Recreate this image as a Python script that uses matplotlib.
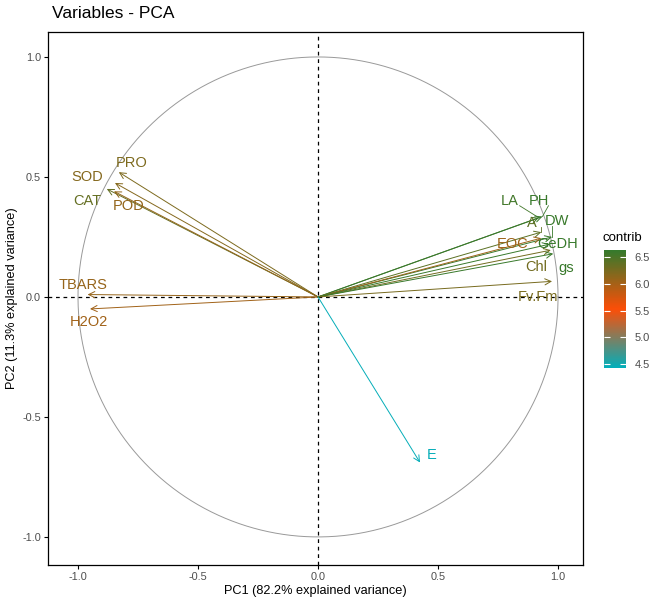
import numpy as np
import matplotlib
matplotlib.use("Agg")
import matplotlib.pyplot as plt
from matplotlib.colors import LinearSegmentedColormap, Normalize
from matplotlib.cm import ScalarMappable

plt.rcParams['font.family'] = ['Liberation Sans', 'DejaVu Sans']

# variable coordinates on PC1 / PC2 and their contribution
names = ['PRO', 'SOD', 'CAT', 'POD', 'TBARS', 'H2O2', 'LA', 'PH', 'A', 'DW',
         'EOC', 'GeDH', 'Chl', 'gs', 'Fv.Fm', 'E']
pc1 = [-0.83, -0.846, -0.88, -0.85, -0.96, -0.95, 0.92, 0.935, 0.93, 0.975,
       0.93, 0.965, 0.97, 0.98, 0.975, 0.425]
pc2 = [0.52, 0.475, 0.45, 0.44, 0.01, -0.05, 0.33, 0.335, 0.27, 0.25,
       0.245, 0.22, 0.195, 0.18, 0.065, -0.69]
contrib = [6.22, 6.18, 6.35, 6.1, 6.08, 6.02, 6.55, 6.6, 6.4, 6.6,
           6.05, 6.6, 6.28, 6.6, 6.25, 4.45]

# label positions (repelled text)
lab_x = [-0.775, -0.96, -0.96, -0.79, -0.98, -0.955, 0.80, 0.92, 0.89, 0.995,
         0.81, 1.0, 0.91, 1.035, 0.915, 0.475]
lab_y = [0.56, 0.50, 0.40, 0.38, 0.05, -0.105, 0.40, 0.40, 0.31, 0.315,
         0.22, 0.22, 0.125, 0.12, 0.0, -0.66]
seg_names = ['LA', 'PH', 'A', 'DW']

cmap = LinearSegmentedColormap.from_list('contrib', ['#00AFBB', '#FC4E07', '#337A2C'])
norm = Normalize(vmin=4.43, vmax=6.63)

fig = plt.figure(figsize=(6.49, 6.02), dpi=100)
ax = fig.add_axes([48 / 649, 1 - 565 / 602, 535 / 649, 533 / 602])

t = np.linspace(0, 2 * np.pi, 400)
ax.plot(np.cos(t), np.sin(t), color='#999999', lw=0.7)
ax.axhline(0, color='black', lw=0.9, ls=(0, (3, 3)))
ax.axvline(0, color='black', lw=0.9, ls=(0, (3, 3)))

for n, x, y, c, lx, ly in zip(names, pc1, pc2, contrib, lab_x, lab_y):
    col = cmap(norm(c))
    ax.annotate('', xy=(x, y), xytext=(0, 0),
                arrowprops=dict(arrowstyle='->', color=col, lw=0.7,
                                mutation_scale=11, shrinkA=0, shrinkB=0))
    if n in seg_names:
        ax.plot([lx + (0.04 if lx < x else -0.02), x], [ly - 0.02, y],
                color=col, lw=0.6)
    ax.text(lx, ly, n, color=col, fontsize=10.5, ha='center', va='center')

ax.set_xlim(-1.125, 1.104)
ax.set_ylim(-1.117, 1.104)
ax.set_xticks([-1.0, -0.5, 0.0, 0.5, 1.0])
ax.set_yticks([-1.0, -0.5, 0.0, 0.5, 1.0])
ax.set_xticklabels(['-1.0', '-0.5', '0.0', '0.5', '1.0'])
ax.set_yticklabels(['-1.0', '-0.5', '0.0', '0.5', '1.0'])
ax.tick_params(labelsize=7.8, labelcolor='#4d4d4d', length=3, width=0.8, pad=2)
for s in ax.spines.values():
    s.set_linewidth(0.9)
ax.set_xlabel('PC1 (82.2% explained variance)', fontsize=9.2, labelpad=2)
ax.set_ylabel('PC2 (11.3% explained variance)', fontsize=9.2, labelpad=3)
fig.text(52 / 649, 1 - 14 / 602, 'Variables - PCA', fontsize=12.5, ha='left', va='center')

# colour bar
cax = fig.add_axes([604 / 649, 1 - 368 / 602, 22 / 649, 118 / 602])
cb = fig.colorbar(ScalarMappable(norm=norm, cmap=cmap), cax=cax)
cb.outline.set_visible(False)
cb.set_ticks([4.5, 5.0, 5.5, 6.0, 6.5])
cb.set_ticklabels(['4.5', '5.0', '5.5', '6.0', '6.5'])
cax.tick_params(direction='in', color='white', length=4, width=0.8,
                left=True, right=True, labelsize=8, labelcolor='#4d4d4d', pad=6)
fig.text(622 / 649, 1 - 238 / 602, 'contrib', fontsize=9.5, ha='center', va='center')

fig.savefig('out.png', dpi=100)
